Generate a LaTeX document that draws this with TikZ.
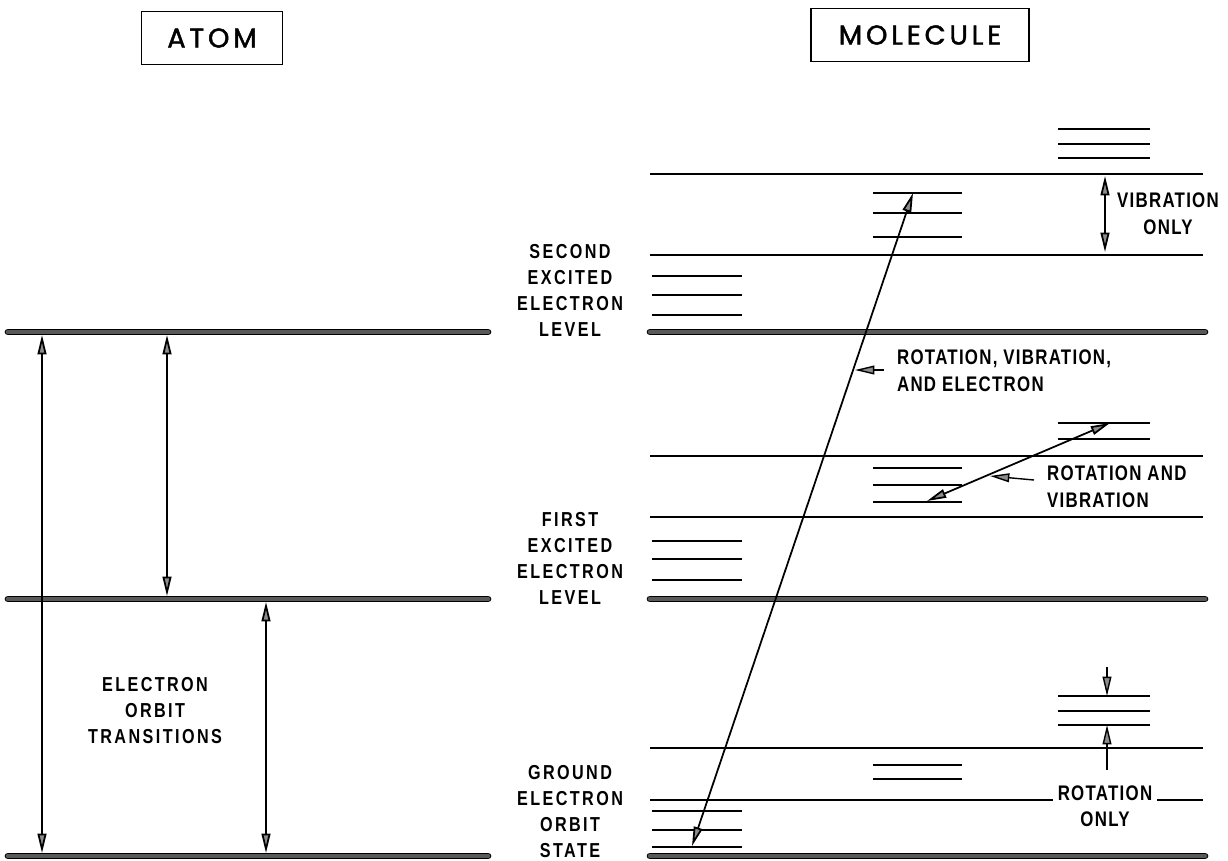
\documentclass[tikz,border=0pt]{standalone}
\usepackage{fontspec}
\setmainfont{Liberation Sans}
\newfontfamily\titlefont[LetterSpace=14,FakeBold=1.6]{Poppins}
\newfontfamily\lblfont[FakeStretch=0.8,LetterSpace=6]{Liberation Sans}
\newfontfamily\lvlfont[FakeStretch=0.8,LetterSpace=12]{Liberation Sans}
\usetikzlibrary{arrows.meta,positioning}

\begin{document}
\begin{tikzpicture}[
    x=0.02cm, y=-0.02cm,
    >={Triangle[length=11pt,width=5pt,fill=black!45]},
    elevel/.style={line width=0.6pt, double=black!65, double distance=2.6pt, line cap=round},
    vlevel/.style={line width=1.1pt},
    rlevel/.style={line width=0.9pt},
    trans/.style={line width=1pt, <->},
    lead/.style={line width=0.8pt, ->},
    title/.style={draw, line width=1pt, minimum width=2.82cm, minimum height=1.06cm,
        font=\titlefont\fontsize{15.5}{18}\selectfont},
    lbl/.style={font=\lblfont\bfseries\fontsize{12}{15.3}\selectfont, inner sep=1pt},
    lvl/.style={align=center, font=\lvlfont\bfseries\fontsize{11.5}{14.8}\selectfont},
]
\useasboundingbox (0,0) rectangle (1228,860);

% titles
\node[title] (atom) at (212,38) {ATOM};
\node[title, minimum width=4.36cm] (molecule) at (920,35) {MOLECULE};

% atom
\foreach \n/\y in {a2/332, a1/599, a0/856}
    \draw[elevel] (8,\y) coordinate (\n w) -- (488,\y) coordinate (\n e);
\foreach \n/\x/\ya/\yb in {ta/42/335/853, tb/167/335/596, tc/266/602/853} {
    \coordinate (\n top) at (\x,\ya);
    \coordinate (\n bot) at (\x,\yb);
    \draw[trans] (\n top) -- (\n bot);
}
\node[lvl] (orbit) at (155,711) {ELECTRON\\ORBIT\\TRANSITIONS};

% molecule
\foreach \y in {174, 255, 456, 517, 748, 800}
    \draw[vlevel] (650,\y) -- (1203,\y);
\foreach \n/\y in {m2/332, m1/599, m0/856}
    \draw[elevel] (650,\y) coordinate (\n w) -- (1205,\y) coordinate (\n e);
\foreach \y in {276, 295, 315, 541, 559, 580, 811, 830, 847}
    \draw[rlevel] (652,\y) -- (742,\y);
\foreach \y in {193, 213, 237, 468, 485, 502, 765, 779}
    \draw[rlevel] (873,\y) -- (962,\y);
\foreach \y in {129, 144, 158, 423, 439, 696, 711, 725}
    \draw[rlevel] (1058,\y) -- (1150,\y);

\node[lvl] (second) at (570,290) {SECOND\\EXCITED\\ELECTRON\\LEVEL};
\node[lvl] (first) at (570,558) {FIRST\\EXCITED\\ELECTRON\\LEVEL};
\node[lvl] (ground) at (570,812) {GROUND\\ELECTRON\\ORBIT\\STATE};

% transitions
\coordinate (g0) at (692,846);
\coordinate (e2) at (913,193);
\draw[trans] (g0) -- (e2);
\coordinate (v1a) at (927,501);
\coordinate (v1b) at (1110,423);
\draw[trans] (v1a) -- (v1b);
\coordinate (vtop) at (1105,176);
\coordinate (vbot) at (1105,252);
\draw[trans] (vtop) -- (vbot);
\coordinate (rt0) at (1107,667);
\coordinate (rt1) at (1107,696);
\coordinate (rb0) at (1107,770);
\coordinate (rb1) at (1107,725);
\draw[lead] (rt0) -- (rt1);
\draw[lead] (rb0) -- (rb1);

% labels
\node[lbl, anchor=west, align=left] (rve) at (895,371) {ROTATION, VIBRATION,\\AND ELECTRON};
\coordinate (rvefoot) at (884,370);
\coordinate (rvetip) at (855,370);
\draw[lead] (rvefoot) -- (rvetip);
\node[lbl, anchor=west, align=left] (rv) at (1045,487) {ROTATION AND\\VIBRATION};
\coordinate (rvfoot) at (1034,480);
\coordinate (rvtip) at (990,476);
\draw[lead] (rvfoot) -- (rvtip);
\node[lbl, align=center] (vib) at (1168,214) {VIBRATION\\ONLY};
\node[lbl, fill=white, anchor=base, inner xsep=3pt] (rot) at (1105,800) {ROTATION};
\node[lbl, anchor=base] (only) at ([yshift=-15.3pt]rot.base) {ONLY};
\end{tikzpicture}
\end{document}
